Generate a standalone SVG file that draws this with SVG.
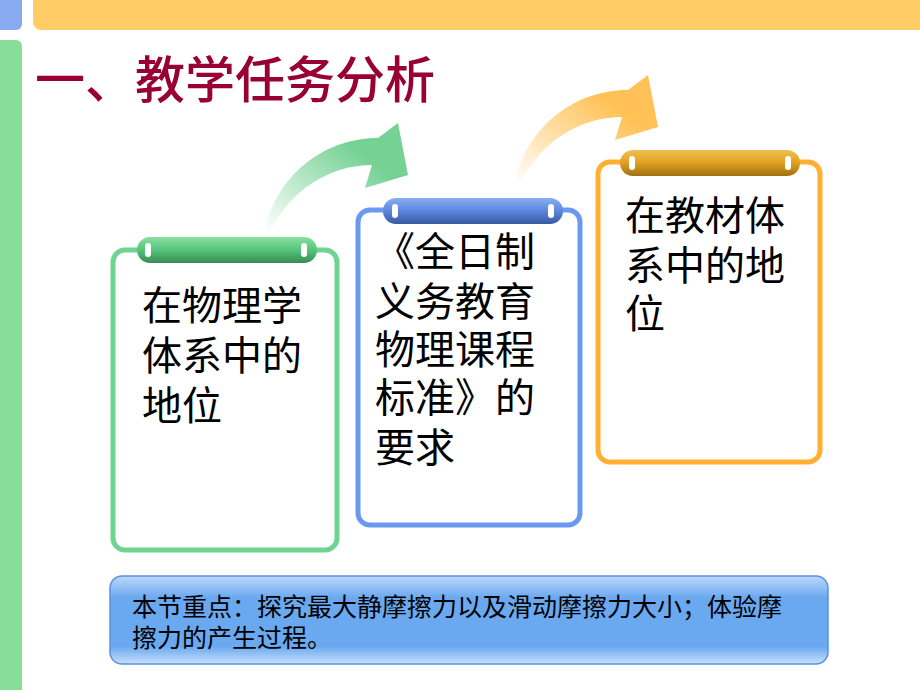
<svg xmlns="http://www.w3.org/2000/svg" width="920" height="690" viewBox="0 0 920 690">
<defs>
<style>
.t{font-family:"Liberation Serif","Noto Sans CJK SC",serif;fill:#000}
.card{fill:#fff;stroke-width:5}
</style>
<linearGradient id="ga" x1="0" y1="1" x2="1" y2="0"><stop offset="0" stop-color="#66cc88" stop-opacity="0"/><stop offset="0.7" stop-color="#66cc88" stop-opacity="0.9"/></linearGradient>
<linearGradient id="oa" x1="0" y1="1" x2="1" y2="0"><stop offset="0" stop-color="#ffbb44" stop-opacity="0"/><stop offset="0.7" stop-color="#ffbb44" stop-opacity="0.9"/></linearGradient>
<linearGradient id="gb" x1="0" y1="0" x2="0" y2="1"><stop offset="0" stop-color="#88e0a0"/><stop offset="0.5" stop-color="#55c47a"/><stop offset="1" stop-color="#3a8a55"/></linearGradient>
<linearGradient id="bb" x1="0" y1="0" x2="0" y2="1"><stop offset="0" stop-color="#88aef0"/><stop offset="0.5" stop-color="#5a86dd"/><stop offset="1" stop-color="#3a5aa0"/></linearGradient>
<linearGradient id="ob" x1="0" y1="0" x2="0" y2="1"><stop offset="0" stop-color="#f0c050"/><stop offset="0.5" stop-color="#e0a020"/><stop offset="1" stop-color="#a07010"/></linearGradient>
<linearGradient id="box" x1="0" y1="0" x2="0" y2="1"><stop offset="0" stop-color="#bcd8fa"/><stop offset="0.25" stop-color="#6aa8f0"/><stop offset="0.8" stop-color="#6aa8f0"/><stop offset="1" stop-color="#c8e0fa"/></linearGradient>
</defs>
<rect width="920" height="690" fill="#fff"/>
<rect x="33" y="-10" width="900" height="40" rx="8" fill="#ffcc66"/>
<rect x="-10" y="-10" width="32" height="40" rx="6" fill="#88aaee"/>
<rect x="-10" y="40" width="32" height="660" rx="6" fill="#88dd99"/>
<text x="35" y="98" font-family="'Liberation Serif','Noto Sans CJK SC',serif" font-size="50" font-weight="500" fill="#990033">一、教学任务分析</text>
<g id="connectors">
<path d="M265,230 C275,180 320,138 378,138 L398,123 L408,175 L365,188 L372,165 C330,165 290,190 270,232 Z" fill="url(#ga)"/>
<path transform="translate(250,-48)" d="M265,230 C275,180 320,138 378,138 L398,123 L408,175 L365,188 L372,165 C330,165 290,190 270,232 Z" fill="url(#oa)"/>
</g>
<g id="card1">
<rect class="card" x="113" y="250" width="224" height="300" rx="12" stroke="#6fd490"/>
<rect x="137" y="237" width="180" height="26" rx="13" fill="url(#gb)"/>
<rect x="145" y="243" width="6" height="14" rx="3" fill="#fff"/><rect x="301" y="243" width="6" height="14" rx="3" fill="#fff"/>
<text class="t" font-size="40"><tspan x="142" y="320">在物理学</tspan><tspan x="142" y="370">体系中的</tspan><tspan x="142" y="420">地位</tspan></text>
</g>
<g id="card2">
<rect class="card" x="358" y="210" width="222" height="315" rx="12" stroke="#6a9af0"/>
<rect x="383" y="198" width="180" height="26" rx="13" fill="url(#bb)"/>
<rect x="392" y="204" width="6" height="14" rx="3" fill="#fff"/><rect x="548" y="204" width="6" height="14" rx="3" fill="#fff"/>
<text class="t" font-size="40"><tspan x="375" y="266">《全日制</tspan><tspan x="375" y="316">义务教育</tspan><tspan x="375" y="364">物理课程</tspan><tspan x="375" y="412">标准》的</tspan><tspan x="375" y="462">要求</tspan></text>
</g>
<g id="card3">
<rect class="card" x="598" y="162" width="222" height="300" rx="12" stroke="#ffb030"/>
<rect x="620" y="150" width="180" height="26" rx="13" fill="url(#ob)"/>
<rect x="629" y="156" width="6" height="14" rx="3" fill="#fff"/><rect x="785" y="156" width="6" height="14" rx="3" fill="#fff"/>
<text class="t" font-size="40"><tspan x="625" y="230">在教材体</tspan><tspan x="625" y="280">系中的地</tspan><tspan x="625" y="328">位</tspan></text>
</g>
<g id="note">
<rect x="110" y="576" width="718" height="88" rx="12" fill="url(#box)" stroke="#5a90e0" stroke-width="1.5"/>
<text class="t" font-size="25"><tspan x="132" y="616">本节重点：探究最大静摩擦力以及滑动摩擦力大小；体验摩</tspan><tspan x="132" y="647">擦力的产生过程。</tspan></text>
</g>
</svg>
